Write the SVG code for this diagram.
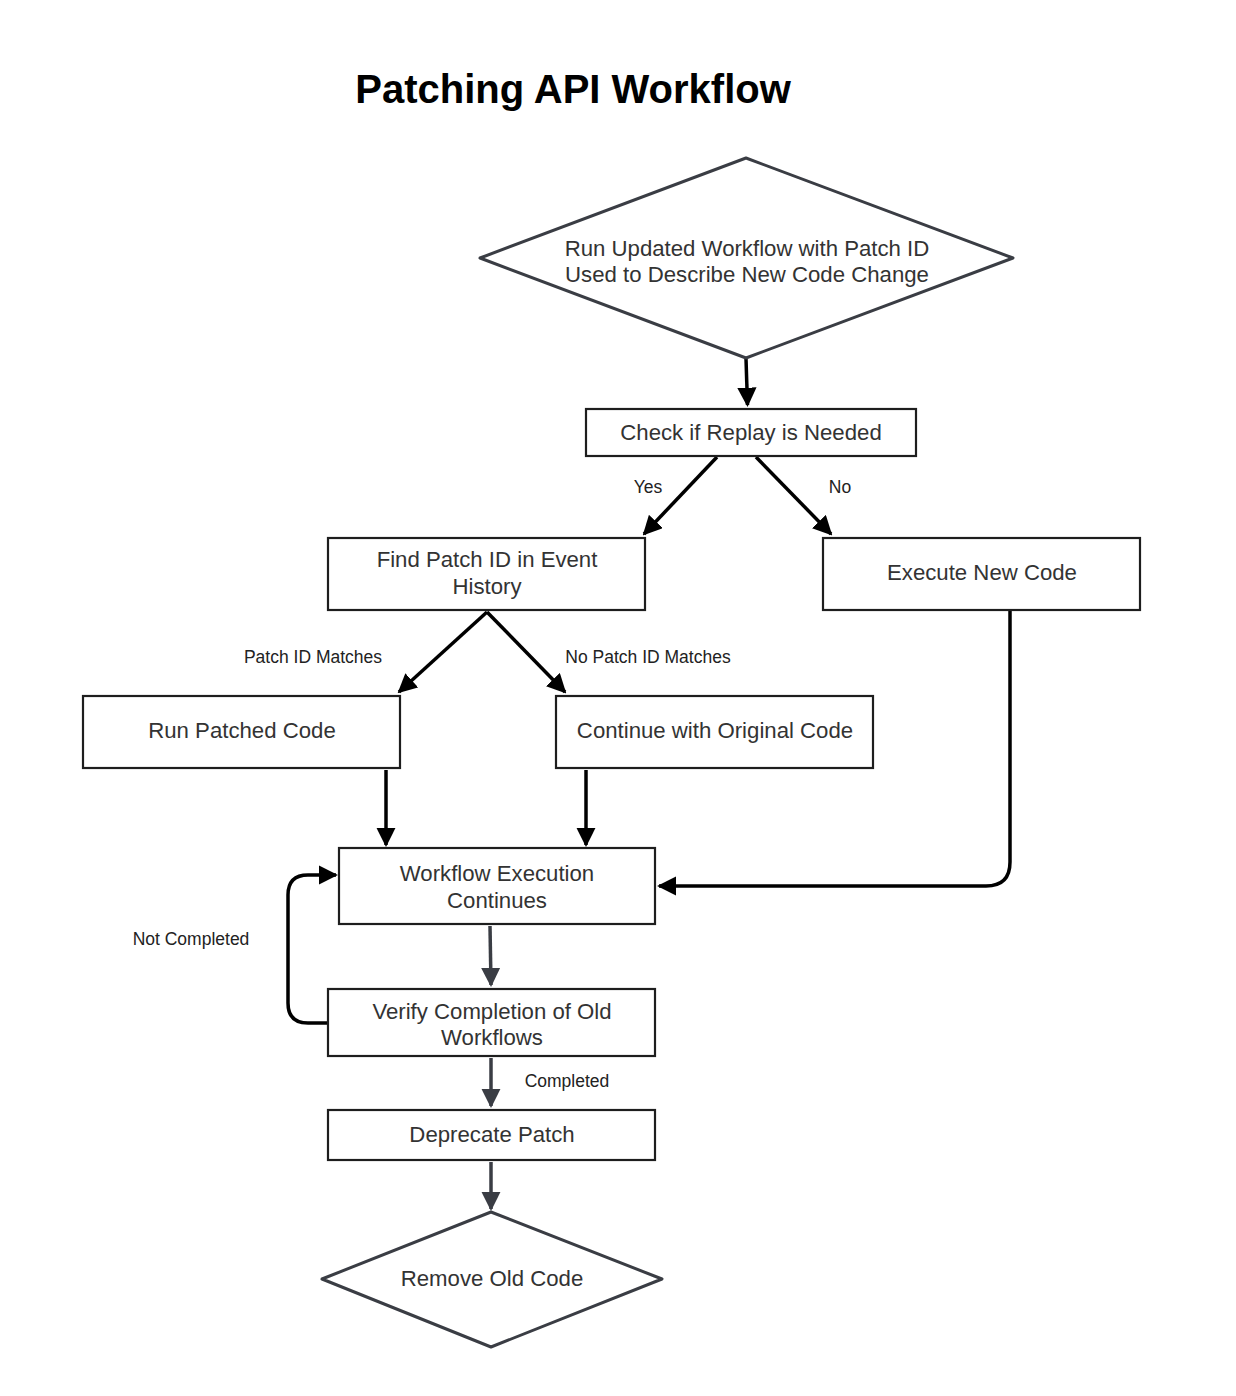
<svg xmlns="http://www.w3.org/2000/svg" width="1236" height="1396" viewBox="0 0 1236 1396">
<style>
.box{fill:#fff;stroke:#1e1e1e;stroke-width:2.2}
.dia{fill:#fff;stroke:#3a3d44;stroke-width:3;stroke-linejoin:round}
.t{font-family:"Liberation Sans",Arial,sans-serif;font-size:22.2px;fill:#333;text-anchor:middle}
.l{font-family:"Liberation Sans",Arial,sans-serif;font-size:17.5px;fill:#222;text-anchor:middle}
.c{fill:none;stroke:#000;stroke-width:3.5}
.g{fill:none;stroke:#3a3d44;stroke-width:3.5}
</style>
<defs>
<marker id="ab" viewBox="0 0 10 10" refX="9" refY="5" markerWidth="5.5" markerHeight="5.5" markerUnits="strokeWidth" orient="auto"><path d="M0,0 L10,5 L0,10 z" fill="#000"/></marker>
<marker id="ag" viewBox="0 0 10 10" refX="9" refY="5" markerWidth="5.5" markerHeight="5.5" markerUnits="strokeWidth" orient="auto"><path d="M0,0 L10,5 L0,10 z" fill="#3a3d44"/></marker>
</defs>
<rect width="1236" height="1396" fill="#fff"/>
<text x="573" y="103" font-family="Liberation Sans,Arial,sans-serif" font-size="40" font-weight="bold" text-anchor="middle" fill="#000">Patching API Workflow</text>

<g id="connectors">
<path class="c" d="M746,359 L747.5,405" marker-end="url(#ab)"/>
<path class="c" d="M717,457 L644,534" marker-end="url(#ab)"/>
<path class="c" d="M756,457 L831,534" marker-end="url(#ab)"/>
<path class="c" d="M487,612 L399,692" marker-end="url(#ab)"/>
<path class="c" d="M487,612 L565,692" marker-end="url(#ab)"/>
<path class="c" d="M386,770 L386,845" marker-end="url(#ab)"/>
<path class="c" d="M586,770 L586,845" marker-end="url(#ab)"/>
<path class="c" d="M1010,611 L1010,862 Q1010,886 986,886 L659,886" marker-end="url(#ab)"/>
<path class="c" d="M328,1023 L308,1023 Q288,1023 288,1003 L288,895 Q288,875 308,875 L336,875" marker-end="url(#ab)"/>
<path class="g" d="M490,926 L491,985" marker-end="url(#ag)"/>
<path class="g" d="M491,1058 L491,1106" marker-end="url(#ag)"/>
<path class="g" d="M491,1162 L491,1209" marker-end="url(#ag)"/>
<text class="l" x="648" y="493">Yes</text>
<text class="l" x="840" y="493">No</text>
<text class="l" x="313" y="663">Patch ID Matches</text>
<text class="l" x="648" y="663">No Patch ID Matches</text>
<text class="l" x="191" y="945">Not Completed</text>
<text class="l" x="567" y="1087">Completed</text>
</g>

<g id="start">
<path class="dia" d="M746,158 L1013,258 L746,358 L480,258 Z"/>
<text class="t" x="747" y="256">Run Updated Workflow with Patch ID</text>
<text class="t" x="747" y="282">Used to Describe New Code Change</text>
</g>
<g id="check">
<rect class="box" x="586" y="409" width="330" height="47"/>
<text class="t" x="751" y="440">Check if Replay is Needed</text>
</g>
<g id="find">
<rect class="box" x="328" y="538" width="317" height="72"/>
<text class="t" x="487" y="567">Find Patch ID in Event</text>
<text class="t" x="487" y="594">History</text>
</g>
<g id="execnew">
<rect class="box" x="823" y="538" width="317" height="72"/>
<text class="t" x="982" y="580">Execute New Code</text>
</g>
<g id="patched">
<rect class="box" x="83" y="696" width="317" height="72"/>
<text class="t" x="242" y="738">Run Patched Code</text>
</g>
<g id="original">
<rect class="box" x="556" y="696" width="317" height="72"/>
<text class="t" x="715" y="738">Continue with Original Code</text>
</g>
<g id="continues">
<rect class="box" x="339" y="848" width="316" height="76"/>
<text class="t" x="497" y="881">Workflow Execution</text>
<text class="t" x="497" y="908">Continues</text>
</g>
<g id="verify">
<rect class="box" x="328" y="989" width="327" height="67"/>
<text class="t" x="492" y="1019">Verify Completion of Old</text>
<text class="t" x="492" y="1045">Workflows</text>
</g>
<g id="deprecate">
<rect class="box" x="328" y="1110" width="327" height="50"/>
<text class="t" x="492" y="1142">Deprecate Patch</text>
</g>
<g id="remove">
<path class="dia" d="M491,1212 L662,1279 L491,1347 L322,1279 Z"/>
<text class="t" x="492" y="1286">Remove Old Code</text>
</g>
</svg>
